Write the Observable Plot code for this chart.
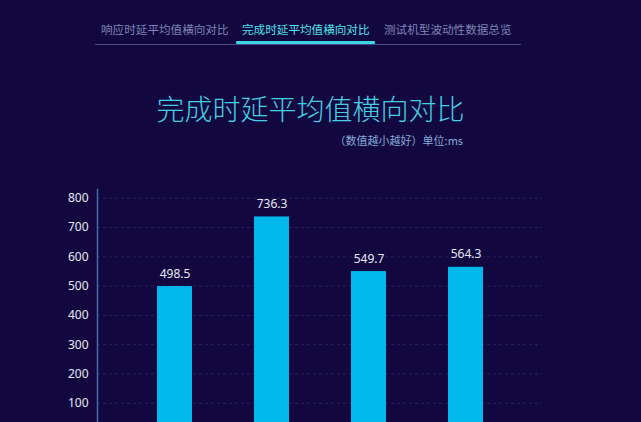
<!DOCTYPE html>
<html>
<head>
<meta charset="utf-8">
<script src="https://cdn.jsdelivr.net/npm/d3@7"></script>
<script src="https://cdn.jsdelivr.net/npm/@observablehq/plot@0.6"></script>
<style>
  html, body { margin: 0; padding: 0; width: 641px; height: 422px; overflow: hidden; background: #12083f; font-family: "Noto Sans CJK SC", "Noto Sans", sans-serif; }
  .tabs { position: absolute; left: 95px; top: 18px; width: 426px; height: 26px; border-bottom: 1.5px solid #4b4a86; }
  .tab { position: absolute; top: 3px; font-size: 11.6px; color: #7f84b6; white-space: nowrap; }
  .tab.active { color: #4fe3ea; }
  .underline { position: absolute; left: 141px; top: 23px; width: 139px; height: 3px; background: #39d6e6; border-radius: 1px; }
  .title { position: absolute; left: -10px; width: 641px; top: 88px; text-align: center; font-size: 28px; color: #45cfe3; font-weight: 300; }
  .subtitle { position: absolute; right: 178px; top: 132px; font-size: 11px; color: #86a8d6; }
  #chart { position: absolute; left: 0; top: 170px; }
</style>
</head>
<body>
<div class="tabs">
  <div class="tab" id="t0" style="left:6px"></div>
  <div class="tab active" id="t1" style="left:147px"></div>
  <div class="tab" id="t2" style="left:289px"></div>
  <div class="underline"></div>
</div>
<div class="title" id="title"></div>
<div class="subtitle" id="subtitle"></div>
<div id="chart"></div>
<script>
const tabLabels = ["响应时延平均值横向对比", "完成时延平均值横向对比", "测试机型波动性数据总览"];
const titleText = "完成时延平均值横向对比";
const subtitleText = "（数值越小越好）单位:ms";
const models = ["机型A", "机型B", "机型C", "机型D"];
const latency = [498.5, 736.3, 549.7, 564.3];
const yTicks = [100, 200, 300, 400, 500, 600, 700, 800];

tabLabels.forEach((t, i) => document.getElementById("t" + i).textContent = t);
document.getElementById("title").textContent = titleText;
document.getElementById("subtitle").textContent = subtitleText;

const data = models.map((m, i) => ({model: m, value: latency[i]}));

const axisLine = (Plot.frame && true)
  ? Plot.frame({anchor: "left", stroke: "#4d6aa8", strokeWidth: 1.5})
  : null;

const chart = Plot.plot({
  width: 641,
  height: 292,
  marginLeft: 97,
  marginRight: 99,
  marginTop: 19,
  marginBottom: 30,
  style: {background: "transparent", fontFamily: "'Noto Sans', 'Noto Sans CJK SC', sans-serif", fontSize: "12px"},
  x: {domain: models, paddingInner: 0.64, paddingOuter: 0.61, axis: null},
  y: {domain: [0, 830], ticks: yTicks, axis: null, label: null},
  marks: [
    Plot.ruleY(yTicks, {stroke: "#262264", strokeWidth: 1, strokeDasharray: "3,3"}),
    Plot.barY(data, {x: "model", y: "value", fill: "#00b8ec"}),
    Plot.text(data, {x: "model", y: "value", text: d => d.value.toFixed(1), dy: -9, lineAnchor: "bottom", fill: "#e6e8f4", fontSize: 12}),
    Plot.axisY({ticks: yTicks, tickSize: 0, tickPadding: 9, color: "#e6e8f4", fontSize: 12, label: null}),
    axisLine
  ]
});
document.getElementById("chart").appendChild(chart);
</script>
</body>
</html>
